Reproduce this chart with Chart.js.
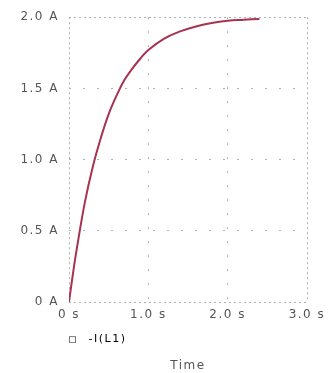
<!DOCTYPE html>
<html>
<head>
<meta charset="utf-8">
<script src="https://cdn.jsdelivr.net/npm/chart.js@4"></script>
<style>
  html, body { margin: 0; padding: 0; background: #fff; }
  #wrap { width: 328px; height: 373px; }
</style>
</head>
<body>
<div id="wrap"><canvas id="lineChart"></canvas></div>
<script>
"use strict";

// time (s) and current (A)
const times = [0, 0.05, 0.1, 0.2, 0.3, 0.4, 0.5, 0.6, 0.7, 0.8, 0.9, 1.0, 1.2, 1.4, 1.6, 1.8, 2.0, 2.2, 2.4];
const current = [0, 0.2, 0.38, 0.7, 0.95, 1.15, 1.32, 1.45, 1.56, 1.64, 1.71, 1.77, 1.85, 1.9, 1.935, 1.96, 1.975, 1.982, 1.988];
const seriesName = "-I(L1)";
const xTitle = "Time";

const points = times.map((t, i) => ({ x: t, y: current[i] }));

const textColor = "#555";
const fontName = "DejaVu Sans";

// legend marker: small empty square, with room after it
const marker = document.createElement("canvas");
marker.width = 14;
marker.height = 8;
const mctx = marker.getContext("2d");
mctx.strokeStyle = "#777";
mctx.lineWidth = 1;
mctx.strokeRect(0.5, 1.5, 6, 6);

// outer lines densely dotted, inner grid lines sparse
const dashFor = last => c => (c.index === 0 || c.index === last ? [2, 3] : [2, 12]);

// wider letter spacing like the picture
const spacing = {
  id: "spacing",
  beforeUpdate: chart => { chart.ctx.letterSpacing = "1.5px"; },
  beforeDraw: chart => { chart.ctx.letterSpacing = "1.5px"; }
};

let ctx = document.getElementById("lineChart").getContext("2d");

let myChart = new Chart(ctx, {
  type: "line",
  data: {
    datasets: [{
      label: seriesName,
      data: points,
      borderColor: "#a83252",
      borderWidth: 2,
      pointRadius: 0,
      tension: 0.4,
      fill: false
    }]
  },
  plugins: [spacing],
  options: {
    responsive: true,
    maintainAspectRatio: false,
    animation: false,
    layout: { padding: { top: 13, right: 21, left: 0, bottom: 0 } },
    plugins: {
      legend: {
        position: "bottom",
        align: "start",
        fullSize: false,
        labels: {
          padding: 0,
          usePointStyle: true,
          pointStyleWidth: 14,
          color: textColor,
          font: { family: fontName, size: 11 },
          generateLabels: () => [{
            text: seriesName,
            pointStyle: marker,
            fillStyle: "rgba(0,0,0,0)",
            strokeStyle: "#777",
            lineWidth: 1,
            datasetIndex: 0
          }]
        }
      },
      title: {
        display: true,
        position: "bottom",
        fullSize: false,
        text: xTitle,
        color: textColor,
        font: { family: fontName, size: 12, weight: "normal" },
        padding: { top: 4, bottom: 0 }
      },
      tooltip: { enabled: false }
    },
    scales: {
      x: {
        type: "linear",
        min: 0,
        max: 3,
        grid: { color: "#b0b0b0", lineWidth: 1, drawTicks: false },
        border: { display: false, dash: dashFor(3) },
        ticks: {
          stepSize: 1,
          padding: 6,
          color: textColor,
          font: { family: fontName, size: 12 },
          callback: v => (v === 0 ? "0 s" : v.toFixed(1) + " s")
        },
        afterFit: s => {
          s.height = 31.6;
          s.paddingRight = 21;
          s.paddingLeft = 0;
        }
      },
      y: {
        min: 0,
        max: 2,
        grid: { color: "#b0b0b0", lineWidth: 1, drawTicks: false },
        border: { display: false, dash: dashFor(4) },
        ticks: {
          stepSize: 0.5,
          padding: 10,
          color: textColor,
          font: { family: fontName, size: 12 },
          callback: v => (v === 0 ? "0 A" : v.toFixed(1) + " A")
        },
        afterFit: s => { s.width = 69; }
      }
    }
  }
});
</script>
</body>
</html>
